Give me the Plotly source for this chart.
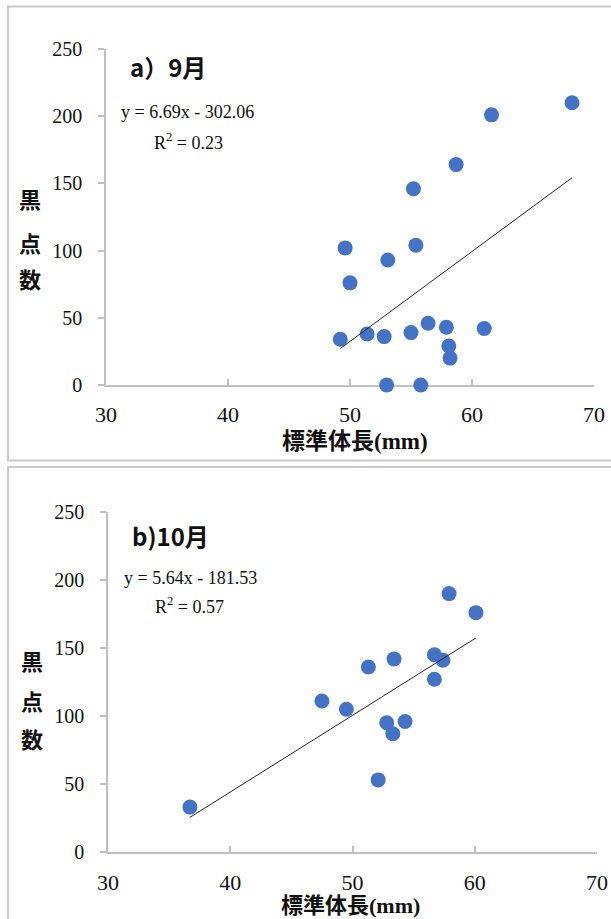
import plotly.graph_objects as go

# ---- data ----
sep_length = [68.2, 61.6, 58.7, 55.2, 55.4, 49.6, 53.1, 50.0, 49.2, 51.4, 52.8, 55.0, 56.4, 57.9, 58.1, 58.2, 61.0, 53.0, 55.8]
sep_spots = [210, 201, 164, 146, 104, 102, 93, 76, 34, 38, 36, 39, 46, 43, 29, 20, 42, 0, 0]
sep_trend = [6.69, -302.06]

oct_length = [57.9, 60.1, 53.4, 51.3, 56.7, 57.4, 56.7, 47.5, 49.5, 52.8, 54.3, 53.3, 52.1, 36.7]
oct_spots = [190, 176, 142, 136, 145, 141, 127, 111, 105, 95, 96, 87, 53, 33]
oct_trend = [5.64, -181.53]

x_ticks = [30, 40, 50, 60, 70]
y_ticks = [0, 50, 100, 150, 200, 250]

W, H = 611, 919
def px(x): return x / W
def py(y): return 1 - y / H

SERIF = "Liberation Serif, Noto Sans CJK JP"
SANS = "Noto Sans CJK JP"
BLUE = "#4472C4"
AXIS_C = "#BFBFBF"

fig = go.Figure()

def add_panel(xs, ys, trend, xa, ya):
    fig.add_trace(go.Scatter(x=xs, y=ys, mode="markers", xaxis=xa, yaxis=ya,
                             marker=dict(size=15, color=BLUE, line=dict(width=0)),
                             cliponaxis=False, showlegend=False, hoverinfo="skip"))
    x0, x1 = min(xs), max(xs)
    fig.add_trace(go.Scatter(x=[x0, x1], y=[trend[0] * x0 + trend[1], trend[0] * x1 + trend[1]],
                             mode="lines", xaxis=xa, yaxis=ya, hoverinfo="skip",
                             line=dict(color="#222222", width=1), showlegend=False))

add_panel(sep_length, sep_spots, sep_trend, "x", "y")
add_panel(oct_length, oct_spots, oct_trend, "x2", "y2")

def xaxis_cfg(domain, anchor, standoff):
    return dict(domain=domain, anchor=anchor, range=[30, 70], tickvals=x_ticks,
                showline=True, linecolor=AXIS_C, linewidth=1.5, ticks="inside",
                ticklen=6, tickcolor=AXIS_C, tickwidth=1.5, showgrid=False, zeroline=False,
                tickfont=dict(family=SERIF, size=22, color="#111"), layer="below traces",
                ticklabelstandoff=standoff, automargin=False)

def yaxis_cfg(domain, anchor):
    return dict(domain=domain, anchor=anchor, range=[0, 250], tickvals=y_ticks,
                showline=True, linecolor=AXIS_C, linewidth=1.5, ticks="outside",
                ticklen=6, tickcolor=AXIS_C, tickwidth=1.5, showgrid=False, zeroline=False,
                tickfont=dict(family=SERIF, size=20, color="#111"), layer="below traces",
                ticklabelstandoff=12, automargin=False)

fig.update_layout(
    template="none",
    width=W, height=H, margin=dict(l=0, r=0, t=0, b=0, pad=0),
    paper_bgcolor="white", plot_bgcolor="white",
    font=dict(family=SERIF, color="#111"),
    xaxis=xaxis_cfg([px(106), px(594)], "y", 9),
    yaxis=yaxis_cfg([py(385), py(49)], "x"),
    xaxis2=xaxis_cfg([px(108), px(597)], "y2", 10),
    yaxis2=yaxis_cfg([py(852), py(512)], "x2"),
)

shapes = [
    dict(type="rect", xref="paper", yref="paper", x0=px(8), x1=1.05, y0=py(460.5), y1=py(6.5),
         line=dict(color="#C8C8C8", width=2), fillcolor="rgba(0,0,0,0)", layer="below"),
    dict(type="rect", xref="paper", yref="paper", x0=px(8), x1=1.05, y0=-0.05, y1=py(467),
         line=dict(color="#C8C8C8", width=2), fillcolor="rgba(0,0,0,0)", layer="below"),
]
fig.update_layout(shapes=shapes)

ann = []
def text(x, y, s, size, family, xanchor="left", bold=False):
    ann.append(dict(x=px(x), y=py(y), xref="paper", yref="paper", text=f"<b>{s}</b>" if bold else s,
                    showarrow=False, xanchor=xanchor, yanchor="middle",
                    font=dict(family=family, size=size, color="#111")))

# top panel
text(128, 67, "a）9月", 24, SANS, bold=True)
text(119, 112, "y = 6.69x - 302.06", 18, SERIF)
text(152, 141, "R<sup>2</sup> = 0.23", 18, SERIF)
for ch, yy in zip("黒点数", [198, 242, 278]):
    text(30, yy, ch, 22, SANS, xanchor="center", bold=True)
text(355, 441, "標準体長(mm)", 23, SERIF, xanchor="center", bold=True)

# bottom panel
text(130, 535, "b)10月", 24, SANS, bold=True)
text(122, 578, "y = 5.64x - 181.53", 18, SERIF)
text(153, 605, "R<sup>2</sup> = 0.57", 18, SERIF)
for ch, yy in zip("黒点数", [660, 700, 738]):
    text(32, yy, ch, 22, SANS, xanchor="center", bold=True)
text(350, 905, "標準体長(mm)", 22, SERIF, xanchor="center", bold=True)

fig.update_layout(annotations=ann)
fig.write_html("out.html", config={"displayModeBar": False},
               post_script="document.body.style.margin='0';document.body.style.overflow='hidden';")
